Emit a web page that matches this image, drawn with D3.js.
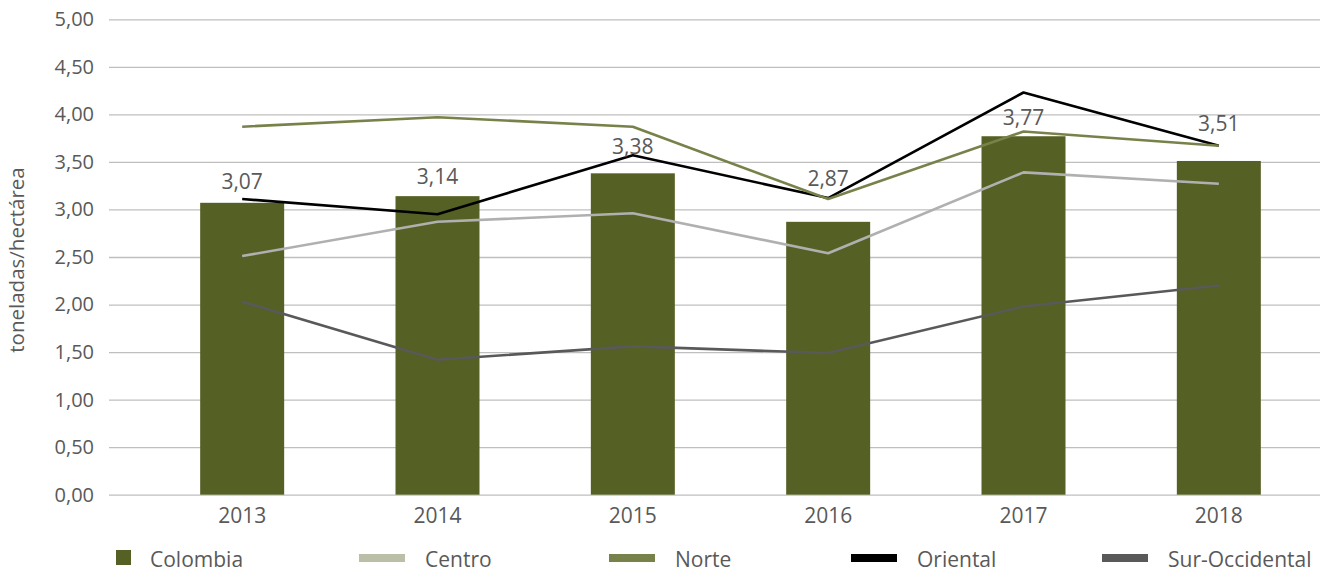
<!DOCTYPE html>
<html>
<head>
<meta charset="utf-8">
<script src="https://cdn.jsdelivr.net/npm/d3@7"></script>
<style>
  body { margin: 0; background: #fff; }
  #vis { width: 1322px; height: 573px; }
  text { font-family: "Open Sans", sans-serif; fill: #595959; }
</style>
</head>
<body>
<div id="vis"></div>
<script>
// data
var years = ['2013', '2014', '2015', '2016', '2017', '2018'];
var colombia = [3.07, 3.14, 3.38, 2.87, 3.77, 3.51];
var centro = [2.51, 2.87, 2.96, 2.54, 3.39, 3.27];
var norte = [3.87, 3.97, 3.87, 3.11, 3.82, 3.67];
var oriental = [3.11, 2.95, 3.57, 3.12, 4.23, 3.67];
var surOccidental = [2.03, 1.42, 1.56, 1.49, 1.98, 2.20];
var yTicks = [0, 0.5, 1, 1.5, 2, 2.5, 3, 3.5, 4, 4.5, 5];

// how far each data label sits above its bar (px), as placed in the original
var labelLift = [14, 12, 19, 36, 11, 30];

var width = 1322;
var height = 573;

var svg = d3.select('#vis')
    .append('svg')
    .attr('width', width)
    .attr('height', height);

var xscale = d3.scaleBand()
    .domain(years)
    .range([144.5, 1316.5])
    .paddingInner(0.57)
    .paddingOuter(0.285);

var yscale = d3.scaleLinear()
    .domain([0, 5])
    .range([494.7, 19.3]);

var fmt = function(v) { return d3.format('.2f')(v).replace('.', ','); };

// gridlines + tick labels
var yaxis = d3.axisLeft(yscale)
    .tickValues(yTicks)
    .tickSize(-(1320 - 109))
    .tickPadding(15)
    .tickFormat(fmt);

svg.append('g')
    .attr('class', 'y axis')
    .attr('transform', 'translate(109,0)')
    .call(yaxis)
    .call(function(g) {
        g.select('.domain').remove();
        g.selectAll('line').attr('stroke', '#bfbfbf').attr('stroke-width', 1.3);
        g.selectAll('text').style('font-size', '20px').attr('fill', '#595959');
    });

// bars
svg.selectAll('.bar')
    .data(colombia)
    .enter()
    .append('rect')
    .attr('class', 'bar')
    .attr('x', function(d, i) { return xscale(years[i]); })
    .attr('y', function(d) { return yscale(d); })
    .attr('width', xscale.bandwidth())
    .attr('height', function(d) { return yscale(0) - yscale(d); })
    .attr('fill', '#556024');

// lines
var series = [
    { name: 'Centro', values: centro, color: '#b0b0b0', legend: '#bbbfa7' },
    { name: 'Norte', values: norte, color: '#77824a', legend: '#77824a' },
    { name: 'Oriental', values: oriental, color: '#000000', legend: '#000000' },
    { name: 'Sur-Occidental', values: surOccidental, color: '#595959', legend: '#595959' }
];

var line = d3.line()
    .x(function(d, i) { return xscale(years[i]) + xscale.bandwidth() / 2; })
    .y(function(d) { return yscale(d); });

// draw in order so the overlaps look like the original
[series[3], series[0], series[2], series[1]].forEach(function(s) {
    svg.append('path')
        .datum(s.values)
        .attr('d', line)
        .attr('fill', 'none')
        .attr('stroke', s.color)
        .attr('stroke-width', 2.6)
        .attr('stroke-linejoin', 'round');
});

// data labels
svg.selectAll('.label')
    .data(colombia)
    .enter()
    .append('text')
    .attr('class', 'label')
    .attr('x', function(d, i) { return xscale(years[i]) + xscale.bandwidth() / 2; })
    .attr('y', function(d, i) { return yscale(d) - labelLift[i]; })
    .attr('text-anchor', 'middle')
    .style('font-size', '21px')
    .text(fmt);

// x axis labels
var xaxis = d3.axisBottom(xscale).tickSize(0).tickPadding(13);
svg.append('g')
    .attr('class', 'x axis')
    .attr('transform', 'translate(0,494.7)')
    .call(xaxis)
    .call(function(g) {
        g.select('.domain').remove();
        g.selectAll('text').style('font-size', '21px').attr('fill', '#595959');
    });

// y title
svg.append('text')
    .attr('transform', 'translate(24,260) rotate(-90)')
    .attr('text-anchor', 'middle')
    .style('font-size', '20.5px')
    .text('toneladas/hectárea');

// legend
var legendX = [116, 359, 609, 851, 1102];
var legend = svg.append('g').attr('class', 'legend');

legend.append('rect')
    .attr('x', legendX[0])
    .attr('y', 550)
    .attr('width', 15)
    .attr('height', 15)
    .attr('fill', '#556024');
legend.append('text')
    .attr('x', legendX[0] + 34)
    .attr('y', 567)
    .style('font-size', '21px')
    .text('Colombia');

series.forEach(function(s, i) {
    var x0 = legendX[i + 1];
    legend.append('rect')
        .attr('x', x0)
        .attr('y', 554)
        .attr('width', 46)
        .attr('height', 8)
        .attr('fill', s.legend);
    legend.append('text')
        .attr('x', x0 + 66)
        .attr('y', 567)
        .style('font-size', '21px')
        .text(s.name);
});
</script>
</body>
</html>
